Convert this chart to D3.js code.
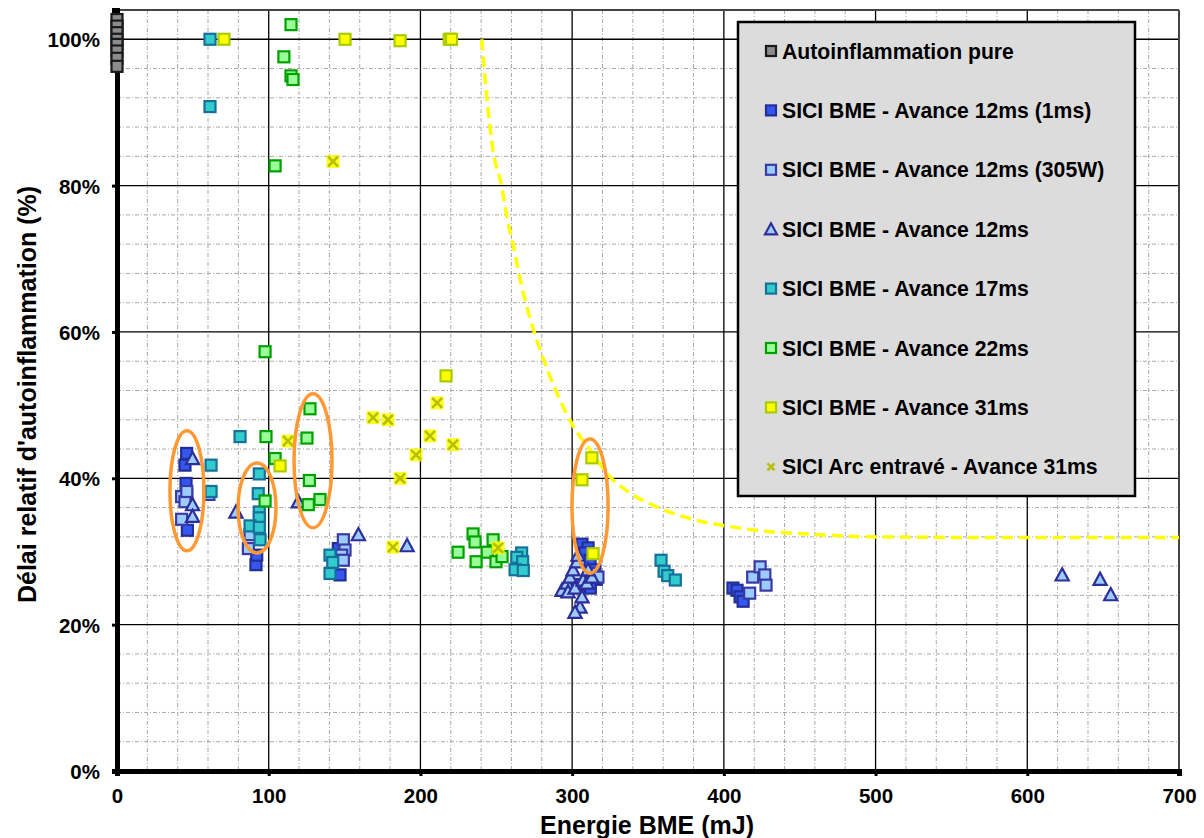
<!DOCTYPE html>
<html><head><meta charset="utf-8">
<script src="https://cdn.jsdelivr.net/npm/d3@7"></script>
<style>body{margin:0;background:#fff;}svg{display:block;font-family:Arial,"Liberation Sans",sans-serif;}</style>
</head><body>
<svg id="c" width="1204" height="838"></svg>
<script>
// ---- data ----
const xTicks = [0,100,200,300,400,500,600,700];
const yTicks = [0,0.2,0.4,0.6,0.8,1.0];
const seriesNames = ["Autoinflammation pure","SICI BME - Avance 12ms (1ms)","SICI BME - Avance 12ms (305W)","SICI BME - Avance 12ms","SICI BME - Avance 17ms","SICI BME - Avance 22ms","SICI BME - Avance 31ms","SICI Arc entravé - Avance 31ms"];

const autoPure = [[0,1.027],[0,1.018],[0,1.009],[0,1.0],[0,0.993],[0,0.984],[0,0.974],[0,0.963]];
const bme12_1ms = [[45.9,0.434],[44.8,0.418],[45.5,0.393],[45.9,0.377],[46.4,0.329],[91.6,0.282],[92.1,0.295],[145.9,0.304],[147,0.268],[306.5,0.31],[310.5,0.305],[308.5,0.298],[311.8,0.288],[315,0.275],[316,0.262],[312,0.25],[305,0.255],[406,0.25],[408.7,0.247],[410.7,0.238],[412.7,0.232]];
const bme12_305W = [[42.6,0.375],[44.8,0.368],[42.6,0.344],[46,0.382],[60.6,0.378],[87.7,0.323],[86.6,0.304],[149.2,0.316],[150.3,0.302],[148.1,0.295],[149.2,0.288],[313,0.27],[317,0.265],[419,0.265],[423.9,0.279],[427,0.268],[427.8,0.254],[417,0.243]];
const bme12 = [[49.8,0.427],[49.8,0.364],[49.8,0.348],[78.4,0.354],[119.5,0.368],[159.1,0.323],[191.2,0.308],[293.3,0.247],[296.6,0.257],[298.6,0.265],[300.6,0.275],[303.2,0.286],[303.9,0.295],[297.3,0.245],[301.9,0.25],[305.2,0.224],[301.9,0.217],[307.2,0.261],[309.8,0.257],[313.1,0.265],[310.5,0.275],[306.5,0.238],[623,0.268],[648,0.262],[655,0.241]];
const bme17 = [[61.3,1.0],[61.3,0.908],[81.1,0.457],[62,0.418],[62,0.382],[93.8,0.406],[93.1,0.379],[93.8,0.354],[93.8,0.346],[87.7,0.335],[93.8,0.333],[94.3,0.316],[140.4,0.295],[142.2,0.285],[140.4,0.27],[266.7,0.298],[263.5,0.292],[267.4,0.286],[262.4,0.275],[267.8,0.274],[358.6,0.288],[360.6,0.273],[363,0.267],[368,0.261]];
const bme22 = [[114.7,1.02],[110,0.976],[114.7,0.95],[116,0.945],[104.2,0.827],[97.6,0.573],[98.2,0.457],[104.2,0.427],[97.6,0.369],[127.2,0.495],[125.2,0.455],[126.8,0.397],[126.1,0.364],[133.8,0.371],[234.7,0.324],[236,0.313],[224.8,0.299],[236.7,0.286],[247.9,0.316],[244,0.299],[249.8,0.286],[253.8,0.293]];
const bme31 = [[70.5,1.0],[150.3,1.0],[186.6,0.998],[219,1.0],[220.5,1.0],[216.9,0.54],[107.5,0.417],[306.5,0.398],[313,0.428],[313.8,0.297]];
const arc31 = [[142.4,0.833],[112.7,0.451],[168.8,0.483],[178.6,0.48],[211,0.503],[206.3,0.458],[221.5,0.446],[197.1,0.432],[186.6,0.4],[181.9,0.306],[251.2,0.305]];
const limitCurve = [[240.4,1.0],[243.7,0.922],[248.1,0.845],[253.6,0.799],[256.9,0.758],[261.3,0.717],[266.8,0.662],[274.5,0.603],[282.1,0.557],[290.9,0.512],[300.8,0.471],[311.8,0.439],[325,0.402],[338.2,0.38],[355.8,0.361],[377.7,0.345],[404,0.334],[430.5,0.327],[463.4,0.323],[496.4,0.32],[600,0.319],[700,0.319]];
// annotation ellipses: cx, cy, rx (mJ), ry (fraction)
const ellipses = [[46.1,0.383,11.2,0.082],[92.3,0.3595,12.5,0.0615],[129.2,0.424,12.5,0.0916],[311.8,0.362,11.9,0.0916]];

// ---- drawing ----
const svg = d3.select("#c");
const L=117,R=1179,T=10,B=771;
const x = d3.scaleLinear().domain([0,700]).range([L,R]);
const y = d3.scaleLinear().domain([0,1.04]).range([B,T]);

// minor grid
const g = svg.append("g");
d3.range(20,700,20).filter(v=>v%100!==0).forEach(v=>{
  g.append("line").attr("x1",x(v)).attr("x2",x(v)).attr("y1",T).attr("y2",B)
   .attr("stroke","#a8a8a8").attr("stroke-width",1).attr("stroke-dasharray","4,2,1,2");
});
d3.range(0.04,1.04,0.04).forEach(v=>{
  if (Math.abs(Math.round(v*100)%20)<0.5) return;
  g.append("line").attr("x1",L).attr("x2",R).attr("y1",y(v)).attr("y2",y(v))
   .attr("stroke","#a8a8a8").attr("stroke-width",1).attr("stroke-dasharray","4,2,1,2");
});
// major grid
xTicks.slice(1,-1).forEach(v=>g.append("line").attr("x1",x(v)).attr("x2",x(v)).attr("y1",T).attr("y2",B).attr("stroke","#000").attr("stroke-width",1.3));
yTicks.slice(1).forEach(v=>g.append("line").attr("x1",L).attr("x2",R).attr("y1",y(v)).attr("y2",y(v)).attr("stroke","#000").attr("stroke-width",1.3));
// frame top/right
svg.append("line").attr("x1",L).attr("x2",R).attr("y1",T).attr("y2",T).attr("stroke","#444").attr("stroke-width",2);
svg.append("line").attr("x1",R).attr("x2",R).attr("y1",T).attr("y2",B).attr("stroke","#444").attr("stroke-width",2);

// axes
const xAxis = svg.append("g").attr("transform",`translate(0,${B})`)
  .call(d3.axisBottom(x).tickValues(xTicks).tickSize(5).tickPadding(12).tickFormat(d3.format("d")));
const yAxis = svg.append("g").attr("transform",`translate(${L},0)`)
  .call(d3.axisLeft(y).tickValues(yTicks).tickSize(5).tickPadding(12).tickFormat(d=>Math.round(d*100)+"%"));
[xAxis,yAxis].forEach(a=>{
  a.select(".domain").attr("stroke","#000").attr("stroke-width",5);
  a.selectAll(".tick line").attr("stroke","#000").attr("stroke-width",3);
  a.selectAll(".tick text").attr("font-size",20.5).attr("font-weight","bold").attr("fill","#000")
   .attr("font-family","Arial,'Liberation Sans',sans-serif");
});
yAxis.selectAll(".tick text").attr("dy","0.36em");

// axis titles
svg.append("text").attr("x",(L+R)/2-1).attr("y",834).attr("text-anchor","middle")
  .attr("font-size",25).attr("font-weight","bold").text("Energie BME (mJ)");
svg.append("text").attr("transform",`translate(36,${(T+B)/2+4}) rotate(-90)`).attr("text-anchor","middle")
  .attr("font-size",25).attr("font-weight","bold").text("Délai relatif d'autoinflammation (%)");

// limit curve
svg.append("path").datum(limitCurve)
  .attr("d",d3.line().x(d=>x(d[0])).y(d=>y(d[1])).curve(d3.curveMonotoneX))
  .attr("fill","none").attr("stroke","#ffff00").attr("stroke-width",3.5).attr("stroke-dasharray","11,6");

// markers
const styles = [
  {data:autoPure, shape:"square", fill:"#8c8c8c", stroke:"#1a1a1a"},
  {data:bme12_1ms, shape:"square", fill:"#3557f0", stroke:"#232f96"},
  {data:bme12_305W, shape:"square", fill:"#9ccbff", stroke:"#3a3aa6"},
  {data:bme12, shape:"triangle", fill:"#9ccbff", stroke:"#2e2e9a"},
  {data:bme17, shape:"square", fill:"#33cccc", stroke:"#17709c"},
  {data:bme22, shape:"square", fill:"#99ff99", stroke:"#00a000"},
  {data:bme31, shape:"square", fill:"#ffff00", stroke:"#a8cc00"},
  {data:arc31, shape:"x", fill:"#ffff00", stroke:"#b4c000"}
];
function drawMarker(sel, st, cx, cy, sz, legend){
  const h=sz/2;
  if (st.shape==="square"){
    sel.append("rect").attr("x",cx-h).attr("y",cy-h).attr("width",sz).attr("height",sz)
      .attr("fill",st.fill).attr("stroke",st.stroke).attr("stroke-width",2.2);
  } else if (st.shape==="triangle"){
    const hh=h*1.2;
    sel.append("path").attr("d",`M${cx},${cy-hh}L${cx+hh},${cy+hh*0.85}L${cx-hh},${cy+hh*0.85}Z`)
      .attr("fill",st.fill).attr("stroke",st.stroke).attr("stroke-width",2.2);
  } else {
    const hx = legend ? h : h+1;
    if(!legend) sel.append("rect").attr("x",cx-hx).attr("y",cy-hx).attr("width",2*hx).attr("height",2*hx).attr("fill",st.fill).attr("opacity",0.85);
    sel.append("path").attr("d",`M${cx-hx+1.5},${cy-hx+1.5}L${cx+hx-1.5},${cy+hx-1.5}M${cx-hx+1.5},${cy+hx-1.5}L${cx+hx-1.5},${cy-hx+1.5}`)
      .attr("stroke",st.stroke).attr("stroke-width",2.6);
  }
}
styles.forEach(st=>{
  const gg = svg.append("g");
  st.data.forEach(d=>drawMarker(gg, st, x(d[0]), y(d[1]), 11, false));
});

// ellipses
ellipses.forEach(e=>{
  svg.append("ellipse").attr("cx",x(e[0])).attr("cy",y(e[1]))
    .attr("rx",x(e[2])-x(0)).attr("ry",y(0)-y(e[3]))
    .attr("fill","none").attr("stroke","#ff9933").attr("stroke-width",3.5);
});

// legend
const lg = svg.append("g");
lg.append("rect").attr("x",738).attr("y",22).attr("width",397).attr("height",474)
  .attr("fill","#dcdcdc").attr("stroke","#000").attr("stroke-width",2.5);
seriesNames.forEach((n,i)=>{
  const cy = 51 + i*59.4;
  drawMarker(lg, styles[i], 771, cy, 10, true);
  lg.append("text").attr("x",782).attr("y",cy+7.5).attr("font-size",21.2).attr("font-weight","bold").text(n);
});
</script>
</body></html>
